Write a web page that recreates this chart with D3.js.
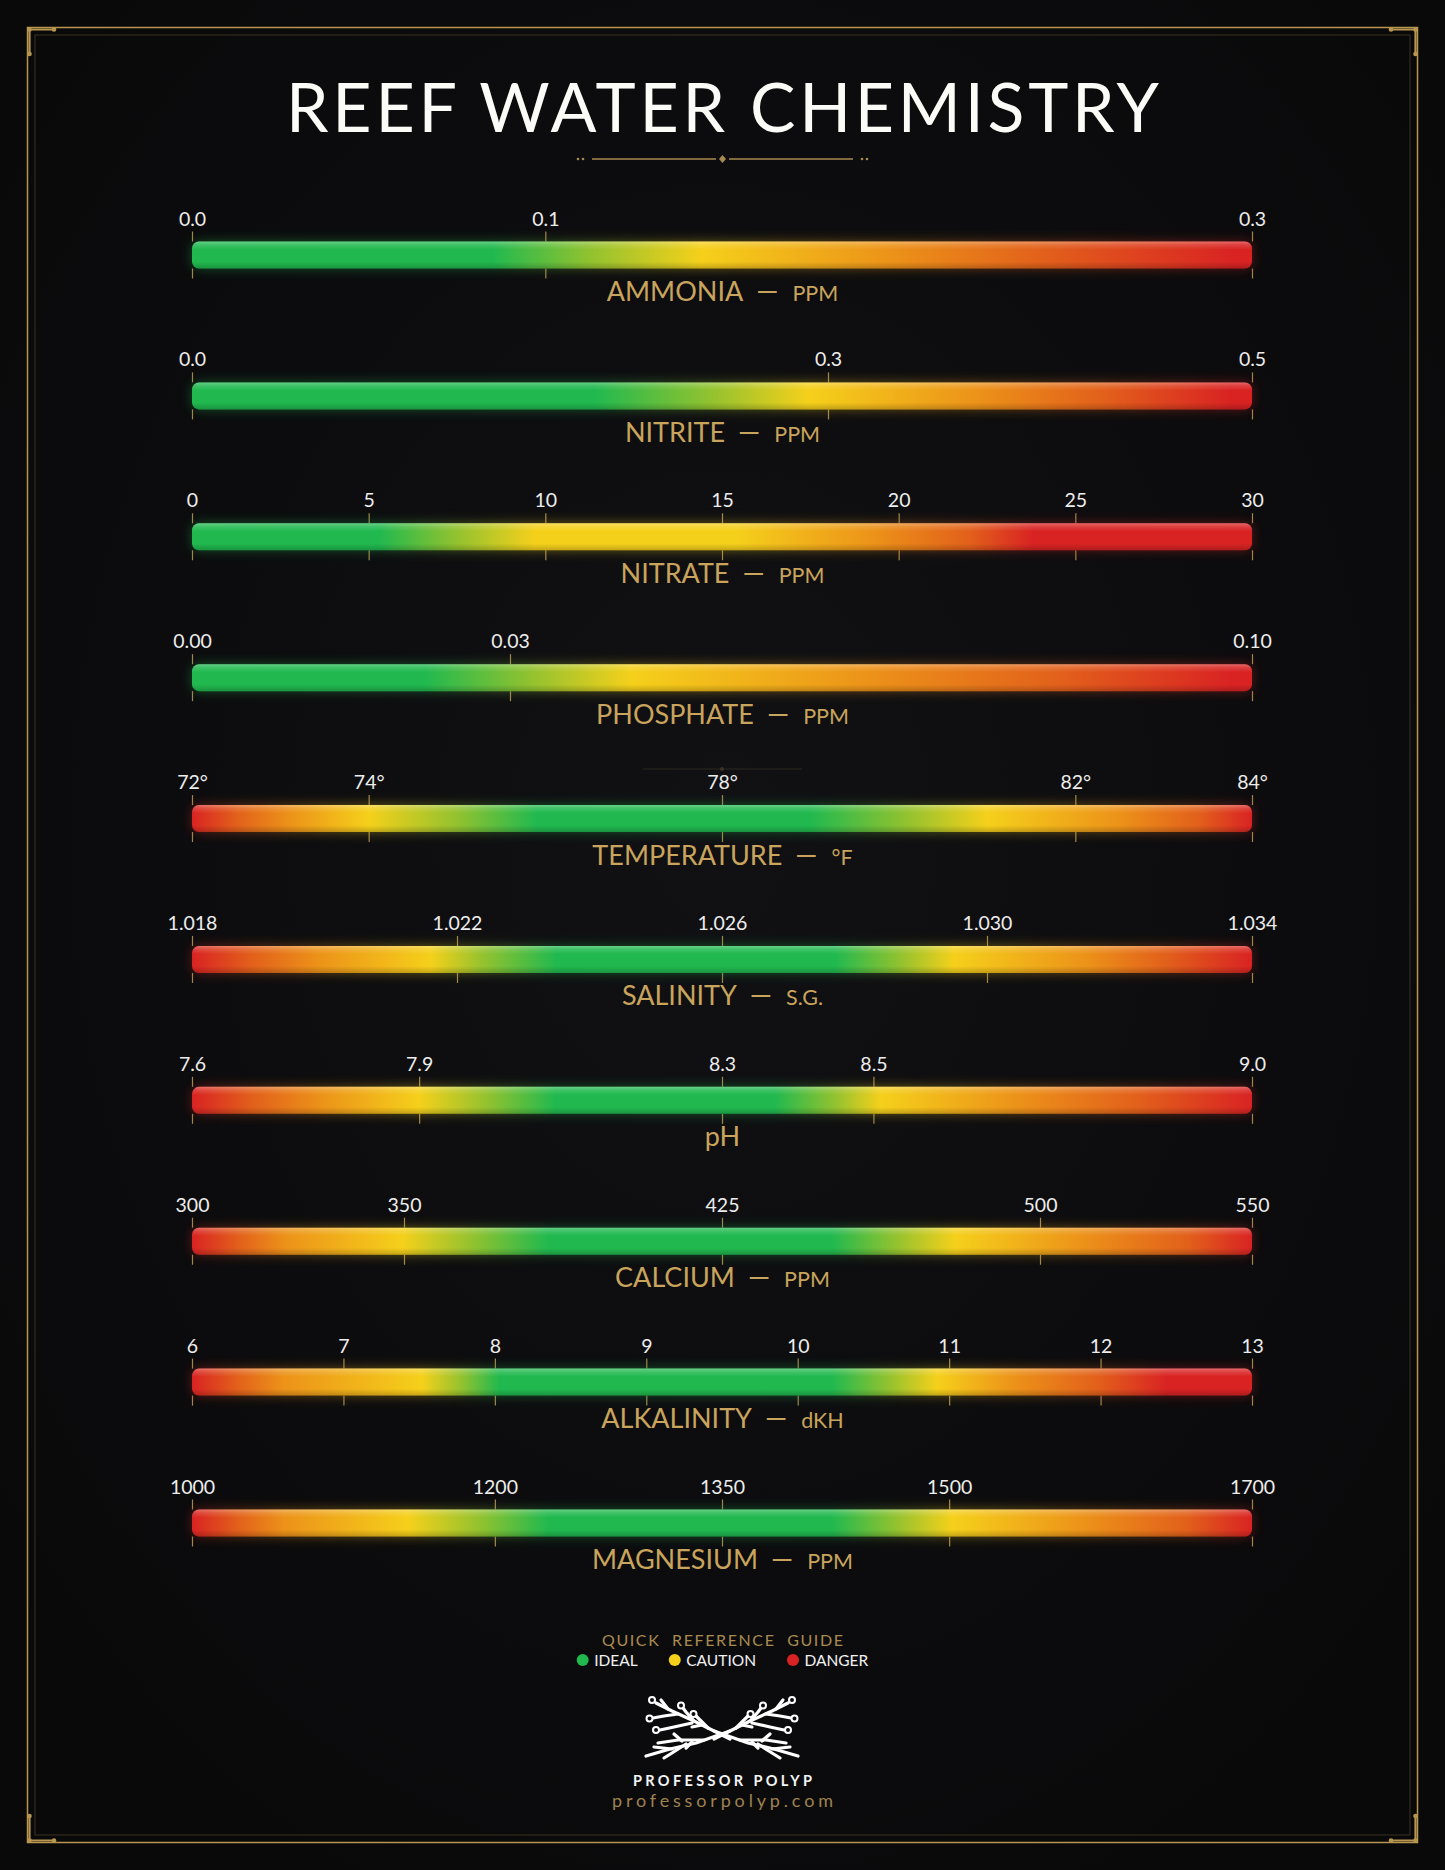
<!DOCTYPE html>
<html lang="en">
<head>
  <meta charset="UTF-8">
  <title>reef water chemistry</title>
  <script src="https://cdn.jsdelivr.net/npm/d3@7"></script>
  <style>
    html, body { margin: 0; padding: 0; background: #0b0b0d; }
    svg { display: block; font-family: Lato, "Open Sans", sans-serif; }
    .axis path.domain { display: none; }
    .axis line { stroke: #a3874c; stroke-width: 1.2; }
    .axis text { fill: #ededed; font-size: 19.5px; font-family: Lato, sans-serif; }
    .name { fill: #c9a45c; }
  </style>
</head>
<body>
  <svg width="1445" height="1870"></svg>
  <script>
    // parameters, top to bottom
    var params = ["AMMONIA", "NITRITE", "NITRATE", "PHOSPHATE", "TEMPERATURE",
                  "SALINITY", "pH", "CALCIUM", "ALKALINITY", "MAGNESIUM"];
    var units = ["PPM", "PPM", "PPM", "PPM", "°F", "S.G.", "", "PPM", "dKH", "PPM"];
    var domains = [[0, 0.3], [0, 0.5], [0, 30], [0, 0.1], [72, 84],
                   [1.018, 1.034], [7.6, 9.0], [300, 550], [6, 13], [1000, 1700]];
    var tickValues = [
      [0, 0.1, 0.3],
      [0, 0.3, 0.5],
      [0, 5, 10, 15, 20, 25, 30],
      [0, 0.03, 0.1],
      [72, 74, 78, 82, 84],
      [1.018, 1.022, 1.026, 1.030, 1.034],
      [7.6, 7.9, 8.3, 8.5, 9.0],
      [300, 350, 425, 500, 550],
      [6, 7, 8, 9, 10, 11, 12, 13],
      [1000, 1200, 1350, 1500, 1700]
    ];
    var tickLabels = [
      ["0.0", "0.1", "0.3"],
      ["0.0", "0.3", "0.5"],
      ["0", "5", "10", "15", "20", "25", "30"],
      ["0.00", "0.03", "0.10"],
      ["72°", "74°", "78°", "82°", "84°"],
      ["1.018", "1.022", "1.026", "1.030", "1.034"],
      ["7.6", "7.9", "8.3", "8.5", "9.0"],
      ["300", "350", "425", "500", "550"],
      ["6", "7", "8", "9", "10", "11", "12", "13"],
      ["1000", "1200", "1350", "1500", "1700"]
    ];
    // colour zones along each bar: [value, level]  (0 ideal ... 5 danger)
    var zones = [
      [[0, 0], [0.085, 0], [0.113, 1], [0.144, 2], [0.198, 3], [0.241, 4], [0.295, 5], [0.3, 5]],
      [[0, 0], [0.19, 0], [0.245, 1], [0.291, 2], [0.37, 3], [0.43, 4], [0.49, 5], [0.5, 5]],
      [[0, 0], [5.3, 0], [7.5, 1], [9.7, 2], [15.4, 2], [19.3, 3], [22, 4], [23.8, 5], [30, 5]],
      [[0, 0], [0.022, 0], [0.032, 1], [0.0415, 2], [0.064, 3], [0.082, 4], [0.098, 5], [0.1, 5]],
      [[72, 5], [72.5, 4], [73.1, 3], [74, 2], [75, 1], [75.9, 0], [79, 0], [80.1, 1], [81, 2], [82.5, 3], [83.4, 4], [84, 5]],
      [[1.018, 5], [1.0189, 4], [1.0199, 3], [1.0216, 2], [1.0224, 1], [1.0235, 0], [1.0277, 0], [1.0287, 1], [1.0295, 2], [1.0315, 3], [1.0327, 4], [1.034, 5]],
      [[7.6, 5], [7.68, 4], [7.77, 3], [7.9, 2], [7.99, 1], [8.08, 0], [8.37, 0], [8.45, 1], [8.51, 2], [8.69, 3], [8.85, 4], [9.0, 5]],
      [[300, 5], [311, 4], [322, 3], [349.6, 2], [366, 1], [384, 0], [451, 0], [466, 1], [480, 2], [510, 3], [535, 4], [550, 5]],
      [[6, 5], [6.3, 4], [6.6, 3], [7.52, 2], [7.78, 1], [8.03, 0], [10.23, 0], [10.6, 1], [10.92, 2], [11.43, 3], [11.98, 4], [12.44, 5], [13, 5]],
      [[1000, 5], [1030, 4], [1061, 3], [1143, 2], [1190, 1], [1235, 0], [1423, 0], [1465, 1], [1502, 2], [1589, 3], [1657, 4], [1700, 5]]
    ];
    var levelColors = ["#21b94f", "#93c22f", "#f5d01b", "#ec9219", "#e2601b", "#d92323"];
    var legendLabels = ["IDEAL", "CAUTION", "DANGER"];
    var legendLevels = [0, 2, 5];

    var svg = d3.select("svg"),
      W = +svg.attr("width"),
      H = +svg.attr("height"),
      barLeft = 192, barRight = 1252, barH = 27;

    var defs = svg.append("defs");

    // background
    var bg = defs.append("radialGradient").attr("id", "bg").attr("cx", "50%").attr("cy", "45%").attr("r", "65%");
    bg.append("stop").attr("offset", "0%").attr("stop-color", "#111114");
    bg.append("stop").attr("offset", "100%").attr("stop-color", "#09090a");
    svg.append("rect").attr("width", W).attr("height", H).attr("fill", "url(#bg)");

    var glow = defs.append("filter").attr("id", "glow")
      .attr("x", "-5%").attr("y", "-150%").attr("width", "110%").attr("height", "400%");
    glow.append("feGaussianBlur").attr("stdDeviation", 6);

    var gloss = defs.append("linearGradient").attr("id", "gloss").attr("x1", 0).attr("y1", 0).attr("x2", 0).attr("y2", 1);
    [[0, "#fff", 0.32], [0.12, "#fff", 0.14], [0.3, "#fff", 0], [0.75, "#000", 0], [1, "#000", 0.2]].forEach(function(s) {
      gloss.append("stop").attr("offset", s[0]).attr("stop-color", s[1]).attr("stop-opacity", s[2]);
    });

    // frame
    var gold = "#b8964f";
    svg.append("rect").attr("x", 27.5).attr("y", 27.5).attr("width", W - 55).attr("height", H - 55)
      .attr("fill", "none").attr("stroke", gold).attr("stroke-width", 1.5);
    svg.append("rect").attr("x", 35).attr("y", 35).attr("width", W - 70).attr("height", H - 70)
      .attr("fill", "none").attr("stroke", "#3a3322").attr("stroke-width", 1);
    [[0, 0, 1, 1], [W, 0, -1, 1], [0, H, 1, -1], [W, H, -1, -1]].forEach(function(c) {
      var g = svg.append("g").attr("transform", "translate(" + c[0] + "," + c[1] + ") scale(" + c[2] + "," + c[3] + ")");
      g.append("path").attr("d", "M29.5,54V29.5H54").attr("fill", "none").attr("stroke", gold).attr("stroke-width", 2.2);
      [[29.5, 54], [54, 29.5], [29.5, 29.5]].forEach(function(p) {
        g.append("circle").attr("cx", p[0]).attr("cy", p[1]).attr("r", 2.3).attr("fill", gold);
      });
    });

    // title
    var title = svg.append("text")
      .attr("x", W / 2).attr("y", 132)
      .attr("text-anchor", "middle")
      .attr("fill", "#fbfbf8")
      .attr("font-size", 68)
      .text("REEF WATER CHEMISTRY");
    fitSpacing(title, 873);

    // title divider
    var dv = svg.append("g").attr("stroke", "#a88a4e").attr("fill", "#a88a4e");
    dv.append("line").attr("x1", 592).attr("x2", 716).attr("y1", 159).attr("y2", 159).attr("stroke-width", 1.4);
    dv.append("line").attr("x1", 729).attr("x2", 853).attr("y1", 159).attr("y2", 159).attr("stroke-width", 1.4);
    dv.append("path").attr("d", "M722.5,155L726,159L722.5,163L719,159Z").attr("stroke", "none");
    [578, 583, 862, 867].forEach(function(x) {
      dv.append("circle").attr("cx", x).attr("cy", 159).attr("r", 1.3).attr("stroke", "none");
    });

    // faint rule above the temperature scale
    svg.append("line").attr("x1", 643).attr("x2", 802).attr("y1", 769).attr("y2", 769)
      .attr("stroke", "#2c2921").attr("stroke-width", 1.2);
    svg.append("circle").attr("cx", 722).attr("cy", 769).attr("r", 2).attr("fill", "#3a3426");

    // rows
    var rowY = d3.scalePoint().domain(params).range([255, 1523]);

    params.forEach(function(name, i) {
      var x = d3.scaleLinear().domain(domains[i]).range([barLeft, barRight]);
      var g = svg.append("g").attr("transform", "translate(0," + rowY(name) + ")");

      var grad = defs.append("linearGradient").attr("id", "grad" + i)
        .attr("gradientUnits", "userSpaceOnUse")
        .attr("x1", barLeft).attr("x2", barRight).attr("y1", 0).attr("y2", 0);
      grad.selectAll("stop")
        .data(zones[i])
        .enter()
        .append("stop")
        .attr("offset", function(d) { return (x(d[0]) - barLeft) / (barRight - barLeft); })
        .attr("stop-color", function(d) { return levelColors[d[1]]; });

      // ticks + labels above, ticks below
      g.append("g")
        .attr("class", "axis")
        .attr("transform", "translate(0," + (-barH / 2) + ")")
        .call(d3.axisTop(x).tickValues(tickValues[i]).tickSize(10).tickPadding(6)
          .tickFormat(function(d, j) { return tickLabels[i][j]; }))
        .attr("font-size", null).attr("font-family", null);
      g.append("g")
        .attr("class", "axis")
        .attr("transform", "translate(0," + (barH / 2) + ")")
        .call(d3.axisBottom(x).tickValues(tickValues[i]).tickSize(10).tickFormat(""));

      // bar
      g.append("rect")
        .attr("x", x(domains[i][0])).attr("y", -barH / 2)
        .attr("width", x(domains[i][1]) - x(domains[i][0])).attr("height", barH)
        .attr("rx", 7)
        .attr("fill", "url(#grad" + i + ")")
        .attr("opacity", 0.4)
        .attr("filter", "url(#glow)");
      g.append("rect")
        .attr("x", x(domains[i][0])).attr("y", -barH / 2)
        .attr("width", x(domains[i][1]) - x(domains[i][0])).attr("height", barH)
        .attr("rx", 7)
        .attr("fill", "url(#grad" + i + ")");
      g.append("rect")
        .attr("x", x(domains[i][0])).attr("y", -barH / 2)
        .attr("width", x(domains[i][1]) - x(domains[i][0])).attr("height", barH)
        .attr("rx", 7)
        .attr("fill", "url(#gloss)");

      // name label
      var t = g.append("text")
        .attr("class", "name")
        .attr("x", W / 2).attr("y", 46)
        .attr("text-anchor", "middle");
      t.append("tspan").attr("font-size", 27).text(name);
      if (units[i]) {
        t.append("tspan").attr("font-size", 28).attr("dx", 13).text("—");
        t.append("tspan").attr("font-size", 21.5).attr("dx", 14).text(units[i]);
      }
    });

    // legend
    var lg = svg.append("text")
      .attr("x", W / 2).attr("y", 1646)
      .attr("text-anchor", "middle")
      .attr("fill", "#a98b50")
      .attr("font-size", 16)
      .attr("word-spacing", 6)
      .text("QUICK REFERENCE GUIDE");
    fitSpacing(lg, 241);

    var items = svg.append("g");
    var cx = 0;
    legendLabels.forEach(function(label, k) {
      var it = items.append("g").attr("transform", "translate(" + cx + ",0)");
      it.append("circle").attr("cx", 6).attr("cy", 1660).attr("r", 6).attr("fill", levelColors[legendLevels[k]]);
      var tx = it.append("text").attr("x", 17.5).attr("y", 1665.5)
        .attr("fill", "#f2f2f2").attr("font-size", 15.5).text(label);
      cx += 17.5 + tx.node().getComputedTextLength() + 31;
    });
    var itemsW = cx - 31;
    items.attr("transform", "translate(" + (W / 2 - itemsW / 2) + ",0)");

    // logo
    var logo = svg.append("g").attr("transform", "translate(722,1735)")
      .attr("fill", "none").attr("stroke", "#fff").attr("stroke-width", 3.2)
      .attr("stroke-linecap", "round").attr("stroke-linejoin", "round");
    [1, -1].forEach(function(s) {
      var h = logo.append("g").attr("transform", "scale(" + s + ",1)");
      [
        "M8,4L-28,-14L-50,-24L-66,-32",
        "M-28,-14L-36,-23L-39,-27",
        "M-14,-7L-22,-15L-26,-19",
        "M-44,-21L-58,-19L-69,-17",
        "M-30,-12L-48,-8L-62,-5",
        "M-54,-26L-61,-35",
        "M-20,-10L-30,-8",
        "M8,-4L-26,8L-52,14L-76,21",
        "M-18,5L-44,5L-64,8",
        "M-36,9L-50,18L-58,23",
        "M-50,14L-68,12",
        "M-40,6L-48,-1",
        "M-30,7L-36,13"
      ].forEach(function(d) { h.append("path").attr("d", d); });
      [[-70, -35], [-41, -29.5], [-28.5, -21], [-72.5, -16.5], [-66, -5]].forEach(function(p) {
        h.append("circle").attr("cx", p[0]).attr("cy", p[1]).attr("r", 3).attr("stroke-width", 2).attr("fill", "#0d0d10");
      });
    });

    var brand = svg.append("text")
      .attr("x", W / 2).attr("y", 1786)
      .attr("text-anchor", "middle")
      .attr("fill", "#f4f4f4")
      .attr("font-size", 14.5).attr("font-weight", "bold")
      .text("PROFESSOR POLYP");
    fitSpacing(brand, 179);

    var url = svg.append("text")
      .attr("x", W / 2).attr("y", 1807)
      .attr("text-anchor", "middle")
      .attr("fill", "#9d8250")
      .attr("font-size", 18)
      .text("professorpolyp.com");
    fitSpacing(url, 221);

    // stretch letter spacing so a text spans the given width
    function fitSpacing(sel, width) {
      var n = sel.text().length;
      var w = sel.node().getComputedTextLength();
      var ls = (width - w) / (n - 1);
      sel.attr("letter-spacing", ls).attr("dx", ls / 2);
    }
  </script>
</body>
</html>
